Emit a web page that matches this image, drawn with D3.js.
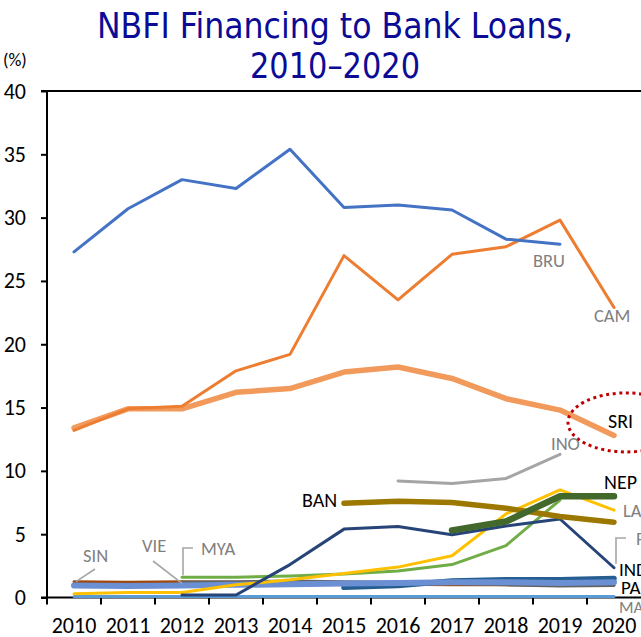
<!DOCTYPE html>
<html>
<head>
<meta charset="utf-8">
<script src="https://cdn.jsdelivr.net/npm/d3@7"></script>
<style>
  html, body { margin: 0; padding: 0; background: #fff; }
  svg { display: block; }
</style>
</head>
<body>
<svg id="chart" width="641" height="637"></svg>
<script>
// Years on the category axis
const years = [2010, 2011, 2012, 2013, 2014, 2015, 2016, 2017, 2018, 2019, 2020];
const yTicks = [0, 5, 10, 15, 20, 25, 30, 35, 40];

// NBFI financing as % of bank loans (null = no data)
const bru = [27.3, 30.7, 33.0, 32.3, 35.4, 30.8, 31.0, 30.6, 28.3, 27.9, null];
const cam = [13.2, 14.9, 15.1, 17.9, 19.2, 27.0, 23.5, 27.1, 27.7, 29.8, 22.9];
const sri = [13.4, 14.9, 14.9, 16.2, 16.5, 17.8, 18.2, 17.3, 15.7, 14.8, 12.8];
const ino = [null, null, null, null, null, null, 9.2, 9.0, 9.4, 11.3, null];
const ban = [null, null, null, null, null, 7.45, 7.6, 7.5, 7.05, 6.4, 5.95];
const nep = [null, null, null, null, null, null, null, 5.3, 6.0, 8.0, 8.0];
const lao = [0.3, 0.4, 0.4, 1.0, 1.4, 1.9, 2.4, 3.3, 6.6, 8.5, 6.9];
const mya = [null, null, 1.6, 1.6, 1.7, 1.85, 2.1, 2.6, 4.1, 7.7, null];
const phi = [null, null, 0.2, 0.2, 2.6, 5.4, 5.6, 4.95, 5.65, 6.2, 2.35];
const ind = [null, null, null, null, null, 0.8, 0.95, 1.3, 1.4, 1.4, 1.5];
const pak = [0.95, 0.9, 0.95, 1.0, 1.05, 1.1, 1.15, 1.2, 1.2, 1.15, 1.2];
const sin = [1.25, 1.2, 1.25, 1.2, 1.2, 1.1, 1.05, 1.0, 1.0, 1.0, 1.0];
const vie = [null, null, 1.2, 1.25, 1.3, 1.25, 1.2, 1.1, 1.0, 0.9, 0.95];
const mal = [0.08, 0.08, 0.08, 0.08, 0.08, 0.08, 0.08, 0.08, 0.08, 0.08, 0.08];

// Series styling, drawn bottom to top
const series = [
  { name: "MAL", values: mal, color: "#5B9BD5", width: 3 },
  { name: "SIN", values: sin, color: "#9E480E", width: 3 },
  { name: "VIE", values: vie, color: "#636363", width: 3 },
  { name: "IND", values: ind, color: "#255E91", width: 5.5 },
  { name: "PAK", values: pak, color: "#6A8FD2", width: 6 },
  { name: "MYA", values: mya, color: "#70AD47", width: 3 },
  { name: "LAO", values: lao, color: "#FFC000", width: 3 },
  { name: "PHI", values: phi, color: "#264478", width: 3 },
  { name: "BAN", values: ban, color: "#9C7800", width: 5.5 },
  { name: "NEP", values: nep, color: "#43682B", width: 6.5 },
  { name: "INO", values: ino, color: "#A5A5A5", width: 3 },
  { name: "SRI", values: sri, color: "#F29A5C", width: 5.5 },
  { name: "CAM", values: cam, color: "#ED7D31", width: 3 },
  { name: "BRU", values: bru, color: "#4472C4", width: 3 }
];

const svg = d3.select("#chart");
const plotLeft = 47, plotRight = 641, plotTop = 91, plotBottom = 597.5;

const x = d3.scaleBand().domain(years).range([plotLeft, plotRight]).padding(0);
const xc = d => x(d) + x.bandwidth() / 2;
const y = d3.scaleLinear().domain([0, 40]).range([plotBottom, plotTop]);

const tickFont = "Carlito, Lato, 'Open Sans', sans-serif";

// Title
const title = svg.append("g").attr("fill", "#0B0B96")
  .attr("font-family", "'DejaVu Sans Condensed', 'DejaVu Sans', sans-serif")
  .attr("font-size", 36).attr("text-anchor", "middle");
title.append("text").attr("x", 335).attr("y", 38)
  .attr("textLength", 476).attr("lengthAdjust", "spacingAndGlyphs")
  .text("NBFI Financing to Bank Loans,");
title.append("text").attr("x", 335).attr("y", 78)
  .attr("textLength", 170).attr("lengthAdjust", "spacingAndGlyphs")
  .text("2010\u20132020");

// Unit label
svg.append("text").attr("x", 3).attr("y", 66)
  .attr("font-family", tickFont).attr("font-size", 18).attr("fill", "#000")
  .text("(%)");

// Y axis
const yAxis = svg.append("g").attr("transform", `translate(${plotLeft},0)`)
  .call(d3.axisLeft(y).tickValues(yTicks).tickSize(6).tickSizeOuter(0));
yAxis.select(".domain").remove();
yAxis.selectAll(".tick line").attr("stroke", "#000").attr("stroke-width", 2);
yAxis.selectAll(".tick text").attr("x", -21)
  .attr("font-family", tickFont).attr("font-size", 22).attr("fill", "#000");

// X axis: labels centred in each band, ticks on band boundaries
const xAxis = svg.append("g").attr("transform", `translate(0,${plotBottom})`)
  .call(d3.axisBottom(x).tickSize(0));
xAxis.select(".domain").remove();
xAxis.selectAll(".tick text").attr("y", 35).attr("dy", 0)
  .attr("font-family", tickFont).attr("font-size", 22).attr("fill", "#000");
svg.append("g").selectAll("line").data(years.slice(1)).join("line")
  .attr("x1", d => x(d)).attr("x2", d => x(d))
  .attr("y1", plotBottom).attr("y2", plotBottom + 7)
  .attr("stroke", "#000").attr("stroke-width", 2);

// Frame lines: top border, left axis, baseline
svg.append("line").attr("x1", plotLeft - 6).attr("x2", plotRight).attr("y1", plotTop).attr("y2", plotTop)
  .attr("stroke", "#000").attr("stroke-width", 2);
svg.append("line").attr("x1", plotLeft).attr("x2", plotLeft).attr("y1", plotTop).attr("y2", plotBottom + 7)
  .attr("stroke", "#000").attr("stroke-width", 2);
svg.append("line").attr("x1", plotLeft - 6).attr("x2", plotRight).attr("y1", plotBottom).attr("y2", plotBottom)
  .attr("stroke", "#000").attr("stroke-width", 2);

// Series lines
const line = d3.line()
  .defined(d => d.v != null)
  .x(d => xc(d.year))
  .y(d => y(d.v));

svg.append("g").selectAll("path").data(series).join("path")
  .attr("d", s => line(years.map((yr, i) => ({ year: yr, v: s.values[i] }))))
  .attr("fill", "none")
  .attr("stroke", s => s.color)
  .attr("stroke-width", s => s.width)
  .attr("stroke-linejoin", "round")
  .attr("stroke-linecap", "round");

// Highlight around Sri Lanka's latest value
svg.append("ellipse")
  .attr("cx", xc(2020) + 12).attr("cy", y(sri[10]) - 13)
  .attr("rx", 58).attr("ry", 29.5)
  .attr("fill", "none").attr("stroke", "#C00000")
  .attr("stroke-width", 3).attr("stroke-dasharray", "3 3.6");

// Series labels
const labelFont = "Carlito, Lato, 'Open Sans', sans-serif";
const gray = "#7F7F7F";
const labels = [
  { t: "BRU", x: 533, y: 267, c: gray, s: 18.5 },
  { t: "CAM", x: 594, y: 322, c: gray, s: 18.5 },
  { t: "SRI", x: 608, y: 428, c: "#000", s: 20 },
  { t: "INO", x: 551, y: 450, c: gray, s: 18.5 },
  { t: "NEP", x: 604, y: 489, c: "#000", s: 20 },
  { t: "LAO", x: 623, y: 517, c: gray, s: 18.5 },
  { t: "PHI", x: 636, y: 545, c: gray, s: 18.5 },
  { t: "IND", x: 619, y: 576, c: "#000", s: 19 },
  { t: "PAK", x: 621, y: 594, c: "#000", s: 19 },
  { t: "MAL", x: 619, y: 613, c: gray, s: 17 },
  { t: "BAN", x: 302, y: 507, c: "#000", s: 20 },
  { t: "SIN", x: 83, y: 562, c: gray, s: 18.5 },
  { t: "VIE", x: 142, y: 552, c: gray, s: 18.5 },
  { t: "MYA", x: 201, y: 555, c: gray, s: 18.5 }
];
svg.append("g").selectAll("text").data(labels).join("text")
  .attr("x", d => d.x).attr("y", d => d.y)
  .attr("fill", d => d.c).attr("font-size", d => d.s)
  .attr("font-family", labelFont)
  .text(d => d.t);

// Leader lines from labels to series
const leaderColor = "#A6A6A6";
const leaders = [
  [[95, 569], [xc(2010) + 2, y(sin[0])]],
  [[153, 561], [xc(2012), y(vie[2]) + 1]],
  [[193, 548], [xc(2012) + 1, 548], [xc(2012) + 1, y(mya[2]) - 2]],
  [[626, 538], [616, 538], [616, y(phi[10]) - 4]]
];
svg.append("g").selectAll("path").data(leaders).join("path")
  .attr("d", d => d3.line()(d))
  .attr("fill", "none").attr("stroke", leaderColor).attr("stroke-width", 1.6);
</script>
</body>
</html>
